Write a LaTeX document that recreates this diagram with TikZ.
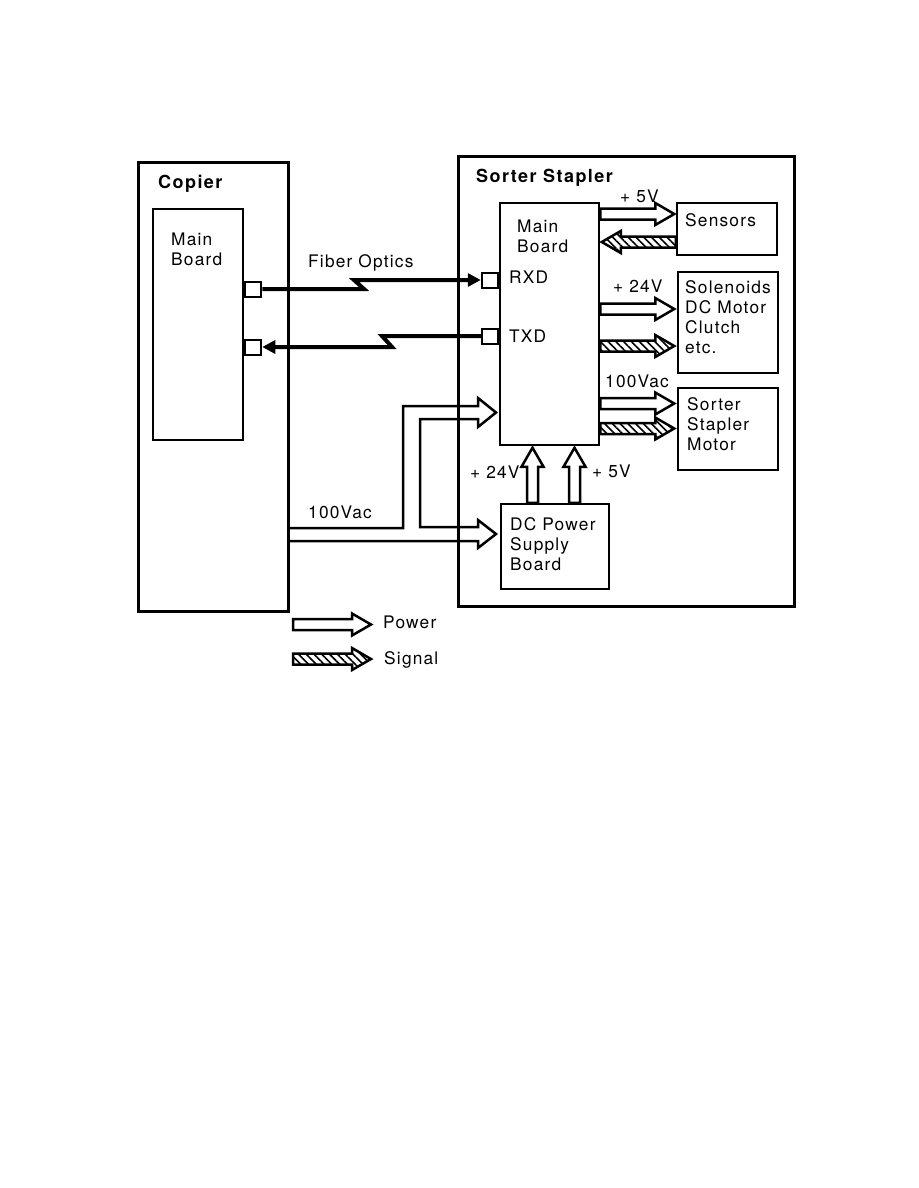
\documentclass[tikz,border=0pt]{standalone}
\usepackage{fontspec}
\setmainfont{TeX Gyre Heros}[LetterSpace=7]
\usetikzlibrary{arrows.meta,patterns.meta}

\tikzset{
  frame/.style={draw, line width=3pt, inner sep=0pt},
  box/.style={draw, line width=2.5pt, inner sep=0pt},
  port/.style={draw, line width=2pt, minimum width=16pt, minimum height=15pt, inner sep=0pt},
  txt/.style={inner sep=0pt, anchor=base west, align=left, font=\fontsize{17.3}{20}\selectfont},
  ttl/.style={txt, font=\fontsize{18}{20}\selectfont\bfseries\addfontfeature{LetterSpace=8}},
  fiber/.style={line width=4pt, -{Triangle[length=13pt,width=13pt]}},
  power/.style={draw, line width=2.5pt, line join=miter},
  signal/.style={power, pattern={Lines[angle=-45,distance=5.5pt,line width=1.6pt]}},
  pics/blockarrow/.style 2 args={code={
    \draw[#1] (0,-5.5) -- (#2-19,-5.5) -- (#2-19,-11) -- (#2,0) -- (#2-19,11) -- (#2-19,5.5) -- (0,5.5) -- cycle;
  }}
}

\begin{document}
\begin{tikzpicture}[x=1pt, y=-1pt]
  \useasboundingbox (0,0) rectangle (918,1188);

  % Copier side
  \node[frame, minimum width=150pt, minimum height=449pt] (copier) at (213,386.5) {};
  \node[ttl] (copiertxt) at (158,188) {Copier};
  \node[box, minimum width=90pt, minimum height=231pt] (cmain) at (198,324.5) {};
  \node[txt] (cmaintxt) at (171,265) {Main\\Board};
  \node[port, anchor=west] (cprx) at (cmain.east |- 0,289) {};
  \node[port, anchor=west] (cptx) at (cmain.east |- 0,347) {};

  % Sorter stapler side
  \node[frame, minimum width=336pt, minimum height=450pt] (sorter) at (626,381) {};
  \node[ttl] (sortertxt) at (476,182) {Sorter Stapler};
  \node[box, minimum width=99pt, minimum height=242pt] (smain) at (549.5,324) {};
  \node[txt] (smaintxt) at (517,252) {Main\\Board};
  \node[port, anchor=east] (rxd) at (smain.west |- 0,280) {};
  \node[port, anchor=east] (txd) at (smain.west |- 0,336) {};
  \node[txt] (rxdtxt) at (509,283) {RXD};
  \node[txt] (txdtxt) at (509,342) {TXD};

  \node[box, minimum width=100pt, minimum height=52pt] (sensors) at (727,229) {};
  \node[txt] (sensorstxt) at (685,226) {Sensors};
  \node[box, minimum width=100pt, minimum height=101pt] (solenoids) at (728,322.5) {};
  \node[txt] (solenoidstxt) at (685,353) {Solenoids\\DC Motor\\Clutch\\etc.};
  \node[box, minimum width=100pt, minimum height=82pt] (motor) at (728,429) {};
  \node[txt] (motortxt) at (687,450) {Sorter\\Stapler\\Motor};
  \node[box, minimum width=108pt, minimum height=85pt] (dcps) at (555,546.5) {};
  \node[txt] (dcpstxt) at (510,570) {DC Power\\Supply\\Board};

  % Fiber optics
  \node[txt] (fibertxt) at (308,267) {Fiber Optics};
  \draw[fiber] (cprx.east) -- (364,289) -- (354,280) -- (rxd.west);
  \draw[fiber] (txd.west) -- (382,336) -- (392,347) -- (cptx.east);

  % Power and signal arrows
  \node[txt] (v5a) at (620,202) {+ 5V};
  \pic at (smain.east |- 0,214) {blockarrow={power}{74}};
  \pic[rotate=180] at (sensors.west |- 0,242) {blockarrow={signal}{74}};
  \node[txt] (v24a) at (613,292) {+ 24V};
  \pic at (smain.east |- 0,309) {blockarrow={power}{74}};
  \pic at (smain.east |- 0,346) {blockarrow={signal}{74}};
  \node[txt] (vaca) at (605,387) {100Vac};
  \pic at (smain.east |- 0,403.5) {blockarrow={power}{74}};
  \pic at (smain.east |- 0,428.5) {blockarrow={signal}{74}};

  \node[txt] (v24b) at (470,478) {+ 24V};
  \node[txt] (v5b) at (592,477) {+ 5V};
  \pic[rotate=90] at (dcps.north -| 532.5,0) {blockarrow={power}{55}};
  \pic[rotate=90] at (dcps.north -| 574.5,0) {blockarrow={power}{55}};

  % 100Vac feed
  \node[txt] (vacb) at (308,518) {100Vac};
  \draw[power] (copier.east |- 0,528) -- (403,528) -- (403,406) -- (478,406) -- (478,398)
    -- (496,412.5) -- (478,427) -- (478,419) -- (420,419) -- (420,527) -- (478,527)
    -- (478,520) -- (496,534) -- (478,548) -- (478,541) -- (copier.east |- 0,541);

  % Legend
  \pic at (293,624.5) {blockarrow={power}{78}};
  \node[txt] (powertxt) at (383,628) {Power};
  \pic at (293,659) {blockarrow={signal}{78}};
  \node[txt] (signaltxt) at (384,664) {Signal};
\end{tikzpicture}
\end{document}
